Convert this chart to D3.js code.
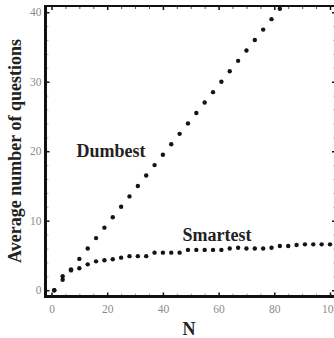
<!DOCTYPE html>
<html>
<head>
<meta charset="utf-8">
<script src="https://cdn.jsdelivr.net/npm/d3@7"></script>
<style>
  html, body { margin: 0; padding: 0; background: #fff; }
  svg { display: block; }
</style>
</head>
<body>
<div id="chart"></div>
<script>
// Values
const nValues = [1, 4, 7, 10, 13, 16, 19, 22, 25, 28, 31, 34, 37, 40, 43, 46, 49,
    52, 55, 58, 61, 64, 67, 70, 73, 76, 79, 82, 85, 88, 91, 94, 97, 100];
const dumbest = [0, 1.5, 3, 4.5, 6, 7.5, 9, 10.5, 12, 13.5, 15, 16.5, 18, 19.5, 21, 22.5, 24,
    25.5, 27, 28.5, 30, 31.5, 33, 34.5, 36, 37.5, 39, 40.5, 42, 43.5, 45, 46.5, 48, 49.5];
const smartest = [0, 2, 2.85, 3.15, 3.72, 4.15, 4.3, 4.45, 4.68, 4.9, 4.9, 4.9, 5.4, 5.4, 5.4, 5.4, 5.8,
    5.8, 5.8, 5.8, 5.8, 6.0, 6.1, 6.0, 6.0, 6.0, 6.1, 6.35, 6.35, 6.5, 6.6, 6.6, 6.6, 6.6];
const xMajorTicks = [0, 20, 40, 60, 80, 100];
const yMajorTicks = [0, 10, 20, 30, 40];
const seriesLabels = ["Dumbest", "Smartest"];

const width = 334;
const height = 338;

const frame = { left: 45.5, right: 336, top: 6, bottom: 296.5 };

const x = d3.scaleLinear().domain([0, 100]).range([51.5, 330]);
const y = d3.scaleLinear().domain([0, 40]).range([290.2, 12.2]);

const xMinor = d3.range(0, 101, 5).filter(v => !xMajorTicks.includes(v));
const yMinor = d3.range(0, 41, 2).filter(v => !yMajorTicks.includes(v));

const svg = d3.select("#chart").append("svg")
    .attr("width", width)
    .attr("height", height);

svg.append("clipPath")
    .attr("id", "plotClip")
    .append("rect")
    .attr("x", frame.left)
    .attr("y", frame.top)
    .attr("width", frame.right - frame.left)
    .attr("height", frame.bottom - frame.top);

// ticks (inward), labels outside
const tickFont = "'Liberation Serif', 'DejaVu Serif', serif";

const styleAxis = (g, color, width) => {
    g.select(".domain").remove();
    g.selectAll(".tick line").attr("stroke", color).attr("stroke-width", width);
    g.selectAll(".tick text")
        .attr("fill", "#8a8a8a")
        .style("font", `11.5px ${tickFont}`);
};

// bottom
svg.append("g")
    .attr("transform", `translate(0,${frame.bottom})`)
    .call(d3.axisBottom(x).tickValues(xMajorTicks).tickSizeInner(-4).tickPadding(8).tickFormat(d3.format("d")))
    .call(g => styleAxis(g, "#111", 1.5));
svg.append("g")
    .attr("transform", `translate(0,${frame.bottom})`)
    .call(d3.axisBottom(x).tickValues(xMinor).tickSizeInner(-3).tickFormat(""))
    .call(g => styleAxis(g, "#9a9a9a", 1));

// top
svg.append("g")
    .attr("transform", `translate(0,${frame.top})`)
    .call(d3.axisTop(x).tickValues(xMajorTicks).tickSizeInner(-4).tickFormat(""))
    .call(g => styleAxis(g, "#111", 1.5));
svg.append("g")
    .attr("transform", `translate(0,${frame.top})`)
    .call(d3.axisTop(x).tickValues(xMinor).tickSizeInner(-3).tickFormat(""))
    .call(g => styleAxis(g, "#555", 1));

// left
svg.append("g")
    .attr("transform", `translate(${frame.left},0)`)
    .call(d3.axisLeft(y).tickValues(yMajorTicks).tickSizeInner(-4).tickPadding(4).tickFormat(d3.format("d")))
    .call(g => styleAxis(g, "#111", 1.5));
svg.append("g")
    .attr("transform", `translate(${frame.left},0)`)
    .call(d3.axisLeft(y).tickValues(yMinor).tickSizeInner(-3).tickFormat(""))
    .call(g => styleAxis(g, "#b5b5b5", 1));

// right
svg.append("g")
    .attr("transform", `translate(${frame.right},0)`)
    .call(d3.axisRight(y).tickValues(yMajorTicks).tickSizeInner(-4).tickFormat(""))
    .call(g => styleAxis(g, "#111", 1.5));
svg.append("g")
    .attr("transform", `translate(${frame.right},0)`)
    .call(d3.axisRight(y).tickValues(yMinor).tickSizeInner(-3).tickFormat(""))
    .call(g => styleAxis(g, "#b5b5b5", 1));

// frame
const frameLines = [
    [frame.left, frame.top, frame.right, frame.top, 2],
    [frame.left, frame.bottom, frame.right, frame.bottom, 3],
    [frame.left, frame.top - 1, frame.left, frame.bottom + 1.5, 3],
    [frame.right, frame.top, frame.right, frame.bottom, 2]
];
svg.append("g")
    .selectAll("line")
    .data(frameLines)
    .join("line")
    .attr("x1", d => d[0]).attr("y1", d => d[1])
    .attr("x2", d => d[2]).attr("y2", d => d[3])
    .attr("stroke", "#111")
    .attr("stroke-width", d => d[4]);

// points
const points = svg.append("g").attr("clip-path", "url(#plotClip)");
[dumbest, smartest].forEach(series => {
    points.append("g")
        .selectAll("circle")
        .data(nValues.map((n, i) => [n, series[i]]))
        .join("circle")
        .attr("cx", d => x(d[0]))
        .attr("cy", d => y(d[1]))
        .attr("r", 2.2)
        .attr("fill", "#141414");
});

// labels
const labelFont = "bold 18px 'Liberation Serif', 'DejaVu Serif', serif";

svg.append("text")
    .attr("x", 111)
    .attr("y", 157)
    .attr("text-anchor", "middle")
    .attr("fill", "#222")
    .style("font", labelFont)
    .text(seriesLabels[0]);

svg.append("text")
    .attr("x", 217)
    .attr("y", 240.5)
    .attr("text-anchor", "middle")
    .attr("fill", "#222")
    .style("font", labelFont)
    .text(seriesLabels[1]);

svg.append("text")
    .attr("x", 189)
    .attr("y", 335)
    .attr("text-anchor", "middle")
    .attr("fill", "#222")
    .style("font", labelFont)
    .text("N");

svg.append("text")
    .attr("transform", "translate(21,151) rotate(-90)")
    .attr("text-anchor", "middle")
    .attr("fill", "#222")
    .style("font", labelFont)
    .text("Average number of questions");
</script>
</body>
</html>
